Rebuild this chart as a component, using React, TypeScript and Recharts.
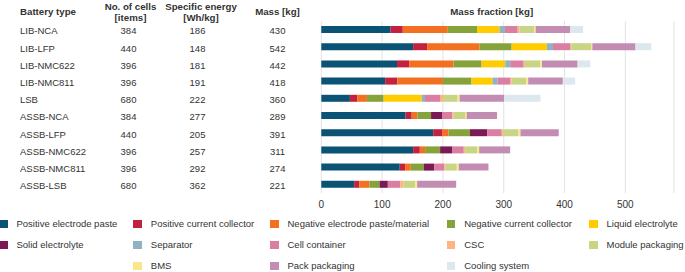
import React from 'react';
import { BarChart, Bar, XAxis, YAxis, CartesianGrid } from 'recharts';

const batteryTypes = ['LIB-NCA', 'LIB-LFP', 'LIB-NMC622', 'LIB-NMC811', 'LSB', 'ASSB-NCA', 'ASSB-LFP', 'ASSB-NMC622', 'ASSB-NMC811', 'ASSB-LSB'];
const cellCounts = [384, 440, 396, 396, 680, 384, 440, 396, 396, 680];
const specificEnergy = [186, 148, 181, 191, 222, 277, 205, 257, 292, 362];
const totalMass = [430, 542, 442, 418, 360, 289, 391, 311, 274, 221];

const posPaste = [114, 151, 124.5, 105, 47, 138.7, 184, 151, 129, 54];
const posCC = [20, 23, 20, 20, 12, 10, 15.4, 11, 8.8, 8.3];
const negPaste = [74, 86, 73, 75, 16, 9.3, 9.8, 8.7, 9.3, 17];
const negCC = [48, 53, 46, 47, 27.5, 22.5, 35, 24.7, 21.4, 16.4];
const liquid = [37, 58, 39, 34.5, 62.5, 0, 0, 0, 0, 0];
const solid = [0, 0, 0, 0, 0, 18, 28.5, 20.3, 17, 13.7];
const separator = [9, 10, 8.2, 8.3, 5.5, 0, 0, 0, 0, 0];
const cellContainer = [21, 28, 22, 21.4, 24.7, 17, 24, 18.6, 17, 20.3];
const csc = [3, 2, 2.2, 2, 5, 2.2, 2.2, 2.2, 2.2, 5.5];
const modulePack = [24, 32.5, 25.2, 23.7, 24, 18.6, 25.3, 19.8, 18.1, 19.1];
const bms = [2.5, 2.2, 2.8, 3.3, 3.3, 2.7, 3.3, 3.3, 3.3, 3.3];
const packPack = [57, 71, 58.6, 57, 73, 50, 63, 51, 48.8, 64.2];
const cooling = [21, 26, 21, 20.3, 60, 0, 0, 0, 0, 0];

const xTicks = [0, 100, 200, 300, 400, 500];

const series = [
  { key: 'posPaste', name: 'Positive electrode paste', values: posPaste, color: '#0a5374' },
  { key: 'posCC', name: 'Positive current collector', values: posCC, color: '#c4203f' },
  { key: 'negPaste', name: 'Negative electrode paste/material', values: negPaste, color: '#f37021' },
  { key: 'negCC', name: 'Negative current collector', values: negCC, color: '#86a33b' },
  { key: 'liquid', name: 'Liquid electrolyte', values: liquid, color: '#ffcc00' },
  { key: 'solid', name: 'Solid electrolyte', values: solid, color: '#7b1b55' },
  { key: 'separator', name: 'Separator', values: separator, color: '#8fb2c4' },
  { key: 'cellContainer', name: 'Cell container', values: cellContainer, color: '#da7fa2' },
  { key: 'csc', name: 'CSC', values: csc, color: '#fbb482' },
  { key: 'modulePack', name: 'Module packaging', values: modulePack, color: '#c7d585' },
  { key: 'bms', name: 'BMS', values: bms, color: '#fae68d' },
  { key: 'packPack', name: 'Pack packaging', values: packPack, color: '#c38db3' },
  { key: 'cooling', name: 'Cooling system', values: cooling, color: '#dde7ee' },
];

const data = batteryTypes.map((name, i) => {
  const row: any = { name };
  series.forEach((s) => { row[s.key] = s.values[i]; });
  return row;
});

// legend layout: [series key, column, row]
const legendCols = [-1, 133.3, 270, 446.7, 589];
const legendRows = [224, 244.7, 266];
const legendPlacement: [string, number, number][] = [
  ['posPaste', 0, 0], ['posCC', 1, 0], ['negPaste', 2, 0], ['negCC', 3, 0], ['liquid', 4, 0],
  ['solid', 0, 1], ['separator', 1, 1], ['cellContainer', 2, 1], ['csc', 3, 1], ['modulePack', 4, 1],
  ['bms', 1, 2], ['packPack', 2, 2], ['cooling', 3, 2],
];

const textColor = '#333333';
const FONT = '"Liberation Sans", Arial, Helvetica, sans-serif';

const TableTick = (props: any) => {
  const { y, payload } = props;
  const i = payload.index;
  const common = { y, dy: '0.5em', fontSize: 9.5, fill: textColor, fontFamily: FONT } as any;
  return (
    <g>
      <text {...common} x={20} textAnchor="start">{batteryTypes[i]}</text>
      <text {...common} x={128.5} textAnchor="middle">{cellCounts[i]}</text>
      <text {...common} x={197.5} textAnchor="middle">{specificEnergy[i]}</text>
      <text {...common} x={277.5} textAnchor="middle">{totalMass[i]}</text>
    </g>
  );
};

const headerStyle: React.CSSProperties = {
  position: 'absolute',
  fontWeight: 'bold',
  fontSize: 9.7,
  lineHeight: '11.3px',
  color: textColor,
  whiteSpace: 'nowrap',
  textAlign: 'center',
};

export default function App() {
  return (
    <div style={{ position: 'absolute', left: 0, top: 0, width: 685, height: 272, background: '#fff', fontFamily: FONT, overflow: 'hidden' }}>
      <div style={{ ...headerStyle, left: 20, top: 6, textAlign: 'left' }}>Battery type</div>
      <div style={{ ...headerStyle, left: 130.5, top: 0.5, transform: 'translateX(-50%)' }}>No. of cells<br />[items]</div>
      <div style={{ ...headerStyle, left: 201, top: 0.5, transform: 'translateX(-50%)' }}>Specific energy<br />[Wh/kg]</div>
      <div style={{ ...headerStyle, left: 277.5, top: 6, transform: 'translateX(-50%)' }}>Mass [kg]</div>
      <div style={{ ...headerStyle, left: 491.7, top: 6, transform: 'translateX(-50%)' }}>Mass fraction [kg]</div>
      <div style={{ position: 'absolute', left: 0, top: 0 }}>
        <BarChart
          width={685}
          height={215}
          data={data}
          layout="vertical"
          margin={{ top: 21, right: 11, bottom: 0, left: 0 }}
          barSize={7}
        >
          <CartesianGrid horizontal={false} vertical={true} stroke="#e3e3e3" />
          <XAxis
            type="number"
            domain={[0, 580]}
            ticks={xTicks}
            axisLine={false}
            tickLine={false}
            height={22}
            tick={{ fontSize: 10, fill: textColor, fontFamily: FONT }}
          />
          <YAxis
            type="category"
            dataKey="name"
            width={321.3}
            axisLine={false}
            tickLine={false}
            interval={0}
            tick={<TableTick />}
          />
          {series.map((s) => (
            <Bar key={s.key} dataKey={s.key} stackId="a" fill={s.color} isAnimationActive={false} />
          ))}
        </BarChart>
      </div>
      {legendPlacement.map(([key, c, r]) => {
        const s = series.find((x) => x.key === key)!;
        return (
          <div key={key} style={{ position: 'absolute', left: legendCols[c], top: legendRows[r] - 4, height: 8, display: 'flex', alignItems: 'center' }}>
            <div style={{ width: 8.5, height: 8, background: s.color, flexShrink: 0 }} />
            <div style={{ marginLeft: 9, fontSize: 9.5, color: textColor, whiteSpace: 'nowrap', lineHeight: '8px' }}>{s.name}</div>
          </div>
        );
      })}
    </div>
  );
}
